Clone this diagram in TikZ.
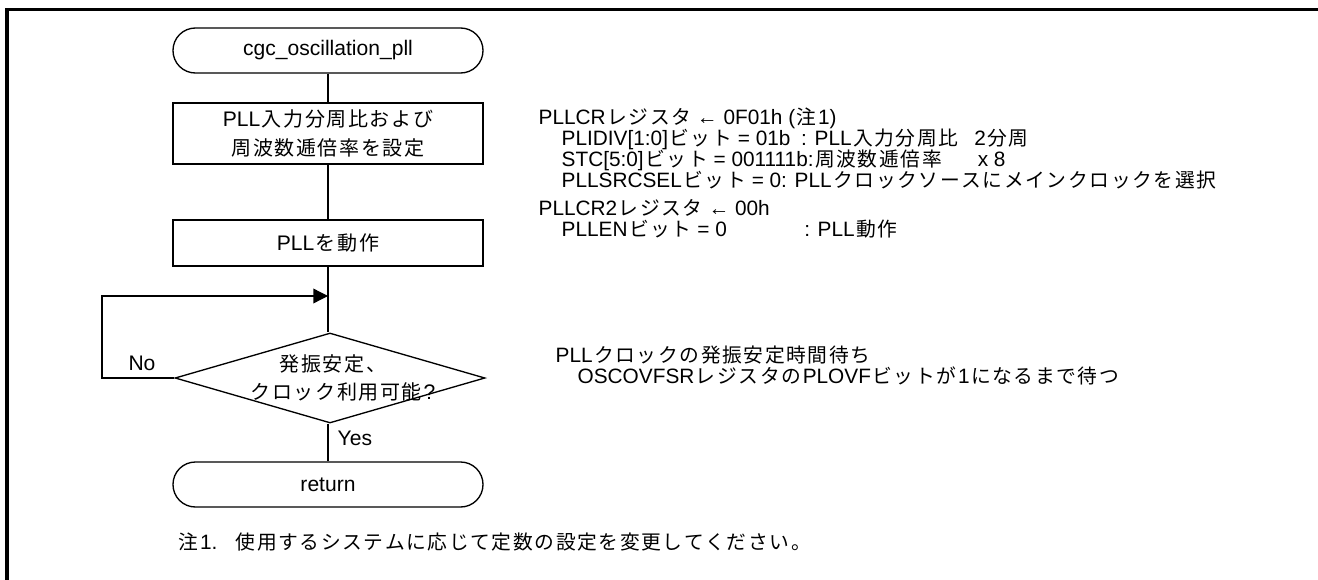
\documentclass[tikz,border=0pt]{standalone}
\usepackage{fontspec}
\setmainfont{Liberation Sans}
\newfontfamily\jpfont[Scale=0.95]{Noto Sans CJK JP}
\usetikzlibrary{shapes.geometric,arrows.meta}
\XeTeXinterchartokenstate=1
\chardef\JPclass=7
\def\setjprange#1#2{\count255=#1 \loop\XeTeXcharclass\count255=\JPclass\relax\ifnum\count255<#2 \advance\count255 by 1 \repeat}
\setjprange{"3000}{"30FF}
\setjprange{"4E00}{"9FFF}
\setjprange{"FF00}{"FFEF}
\XeTeXinterchartoks 0 \JPclass = {\jpfont\kern1.2pt}
\XeTeXinterchartoks 4095 \JPclass = {\jpfont}
\XeTeXinterchartoks \JPclass 0 = {\kern1.2pt\rmfamily}
\XeTeXinterchartoks \JPclass 4095 = {\rmfamily}
\XeTeXinterchartoks \JPclass \JPclass = {\kern1.2pt}
\begin{document}
\begin{tikzpicture}[x=0.75pt,y=-0.75pt,line width=1pt,
  flowfont/.style={font=\fontsize{15.8pt}{21.75pt}\selectfont},
  notefont/.style={font=\fontsize{15.6pt}{14.8pt}\selectfont},
  term/.style={draw,rectangle,rounded corners=16.8pt,minimum width=232.5pt,minimum height=33.75pt,inner sep=0pt,flowfont},
  proc/.style={draw,rectangle,minimum width=232.5pt,inner sep=0pt,flowfont,align=center},
  decision/.style={draw,diamond,minimum width=232.5pt,minimum height=67.5pt,inner sep=0pt},
  ann/.style={anchor=base west,inner sep=0pt,notefont},
  arr/.style={-{Triangle[length=11pt,width=11pt]}}]
\useasboundingbox (0,0) rectangle (1318,579);
% frame
\draw[line width=2.4pt] (7,580) -- (7,9.5) -- (1319,9.5);
% flowchart
\node[term] (start) at (328,50.5) {cgc\_oscillation\_pll};
\node[proc,minimum height=45.75pt] (b1) at (328,133.5) {PLL入力分周比および\\周波数逓倍率を設定};
\node[proc,minimum height=34.5pt] (b2) at (328,243) {PLLを動作};
\node[decision] (d) at (330,378) {};
\node[flowfont,inner sep=0pt] (dt1) at (333,364) {発振安定、};
\node[flowfont,inner sep=0pt] (dt2) at (343,392) {クロック利用可能?};
\node[term] (ret) at (328,484.5) {return};
\draw (start) -- (b1);
\draw (b1) -- (b2);
\draw (b2.south) -- (b2.south |- d.north);
\draw (b2.south |- d.south) -- (ret.north);
\coordinate (lpL) at (102,378);
\coordinate (lpT) at (102,296);
\coordinate (join) at (328,296);
\draw[arr] (d.west) -- (lpL) -- (lpT) -- (join);
\node[flowfont,inner sep=0pt] (no) at (142,363) {No};
\node[flowfont,anchor=west,inner sep=0pt] (yes) at (337,438) {Yes};
% annotations
\node[ann] (a1) at (538,124) {PLLCRレジスタ ← 0F01h (注1)};
\node[ann] (a2) at (561,145) {PLIDIV[1:0]ビット = 01b\hspace{8pt}: PLL入力分周比\hspace{12pt}2分周};
\node[ann] (a3) at (561,166) {STC[5:0]ビット = 001111b:周波数逓倍率\hspace{27pt}x 8};
\node[ann] (a4) at (561,187) {PLLSRCSELビット = 0: PLLクロックソースにメインクロックを選択};
\node[ann] (p1) at (538,215) {PLLCR2レジスタ ← 00h};
\node[ann] (p2) at (561,236) {PLLENビット = 0\hspace{58pt}: PLL動作};
\node[ann] (c1) at (555,362) {PLLクロックの発振安定時間待ち};
\node[ann] (c2) at (577,383) {OSCOVFSRレジスタのPLOVFビットが1になるまで待つ};
\node[ann] (n1) at (178,549) {注1.};
\node[ann] (n2) at (235,549) {使用するシステムに応じて定数の設定を変更してください。};
\end{tikzpicture}
\end{document}
